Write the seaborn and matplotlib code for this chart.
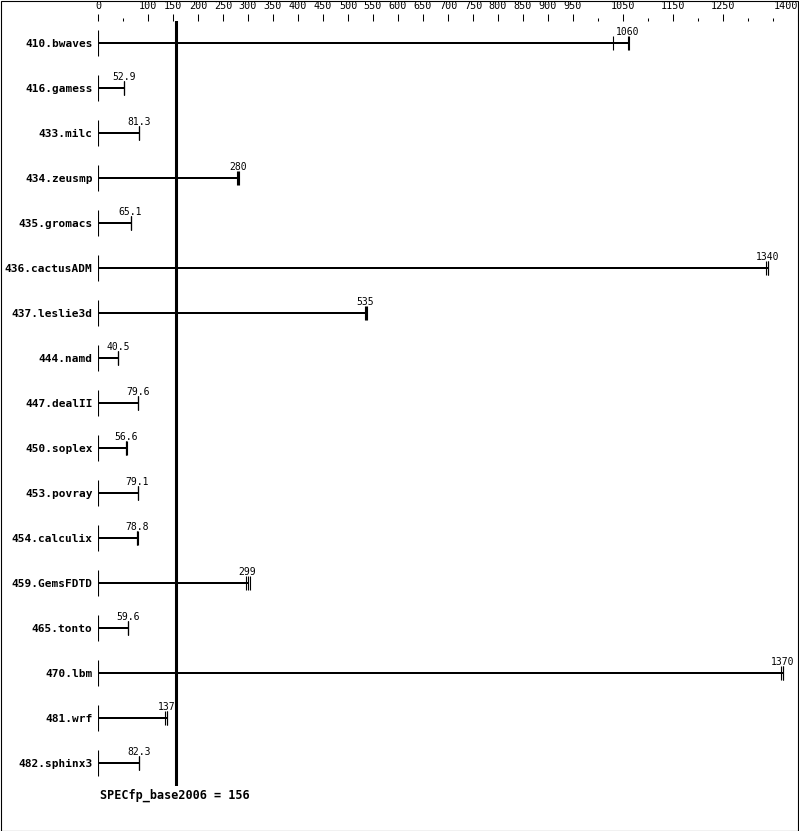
import numpy as np
import pandas as pd
import matplotlib
matplotlib.use("Agg")
import matplotlib.pyplot as plt
import seaborn as sns
from matplotlib.patches import Rectangle

plt.rcParams['font.family'] = ['DejaVu Sans Mono', 'DejaVu Sans']

# benchmark names and median ratio (the bar)
names = ['410.bwaves', '416.gamess', '433.milc', '434.zeusmp', '435.gromacs',
         '436.cactusADM', '437.leslie3d', '444.namd', '447.dealII', '450.soplex',
         '453.povray', '454.calculix', '459.GemsFDTD', '465.tonto', '470.lbm',
         '481.wrf', '482.sphinx3']
medians = [1060, 52.9, 81.3, 280, 65.1, 1340, 535, 40.5, 79.6, 56.6,
           79.1, 78.8, 299, 59.6, 1370, 137, 82.3]
labels = ['1060', '52.9', '81.3', '280', '65.1', '1340', '535', '40.5', '79.6', '56.6',
          '79.1', '78.8', '299', '59.6', '1370', '137', '82.3']
# individual runs (tick marks at the bar end)
runs = [[1030, 1059, 1061], [52.9, 52.9, 52.9], [81.3, 81.3, 81.3], [278, 280, 282],
        [65.1, 65.1, 65.1], [1336, 1340, 1340], [533, 535, 537], [40.5, 40.5, 40.5],
        [79.6, 79.6, 79.6], [55.6, 56.6, 57.6], [79.1, 79.1, 79.1], [77.8, 78.8, 79.8],
        [295, 299, 303], [59.6, 59.6, 59.6], [1365, 1370, 1370], [133, 137, 137],
        [82.3, 82.3, 82.3]]
base_score = 156

major_ticks = [0, 100, 150, 200, 250, 300, 350, 400, 450, 500, 550, 600, 650, 700,
               750, 800, 850, 900, 950, 1050, 1150, 1250, 1400]
minor_ticks = [50, 1000, 1100, 1200, 1300, 1350]

df = pd.DataFrame({'name': names, 'median': medians})
run_df = pd.DataFrame([(n, r) for n, rr in zip(names, runs) for r in rr],
                      columns=['name', 'run'])

W, H = 799, 831
fig = plt.figure(figsize=(W / 100, H / 100), dpi=100)
ax = fig.add_axes([98 / W, 45.5 / H, 700 / W, 765 / H])

n = len(names)
sns.barplot(data=df, x='median', y='name', orient='h', width=2.4 / 45,
            color='black', linewidth=0, errorbar=None, ax=ax)
sns.scatterplot(data=run_df, x='run', y='name', marker='|', s=88,
                color='black', linewidth=0.8, ax=ax, legend=False)

# left bracket line for each row
rows = np.arange(n)
ax.vlines(np.zeros(n), rows - 0.29, rows + 0.29, color='black', lw=0.8)
# overall score line
ax.axvline(base_score, color='black', lw=2.2)

for i, (m, lab) in enumerate(zip(medians, labels)):
    ax.annotate(lab, (m, i), xytext=(0, 8), textcoords='offset points',
                ha='center', va='center', fontsize=7)

ax.set_xlim(0, 1400)
ax.set_ylim(n - 0.5, -0.5)
ax.set_xlabel('')
ax.set_ylabel('')
for s in ax.spines.values():
    s.set_visible(False)

ax.xaxis.tick_top()
ax.set_xticks(major_ticks)
ax.set_xticklabels([str(t) for t in major_ticks])
ax.set_xticks(minor_ticks, minor=True)
ax.tick_params(axis='x', which='major', length=5, width=0.75, pad=2, labelsize=7.3)
ax.tick_params(axis='x', which='minor', length=2.2, width=0.75)
ax.tick_params(axis='y', length=0, pad=4, labelsize=8)
ax.get_xticklabels()[-1].set_horizontalalignment('right')
for t in ax.get_yticklabels():
    t.set_fontweight('bold')

fig.text(100 / W, 1 - 795 / H, 'SPECfp_base2006 = %d' % base_score,
         ha='left', va='center', fontsize=8.5, fontweight='bold')

fig.patches.append(Rectangle((0.5 / W, 0.5 / H), 1 - 1.5 / W, 1 - 1.5 / H,
                             transform=fig.transFigure, fill=False,
                             edgecolor='black', lw=0.8))

fig.savefig('out.png', dpi=100)
